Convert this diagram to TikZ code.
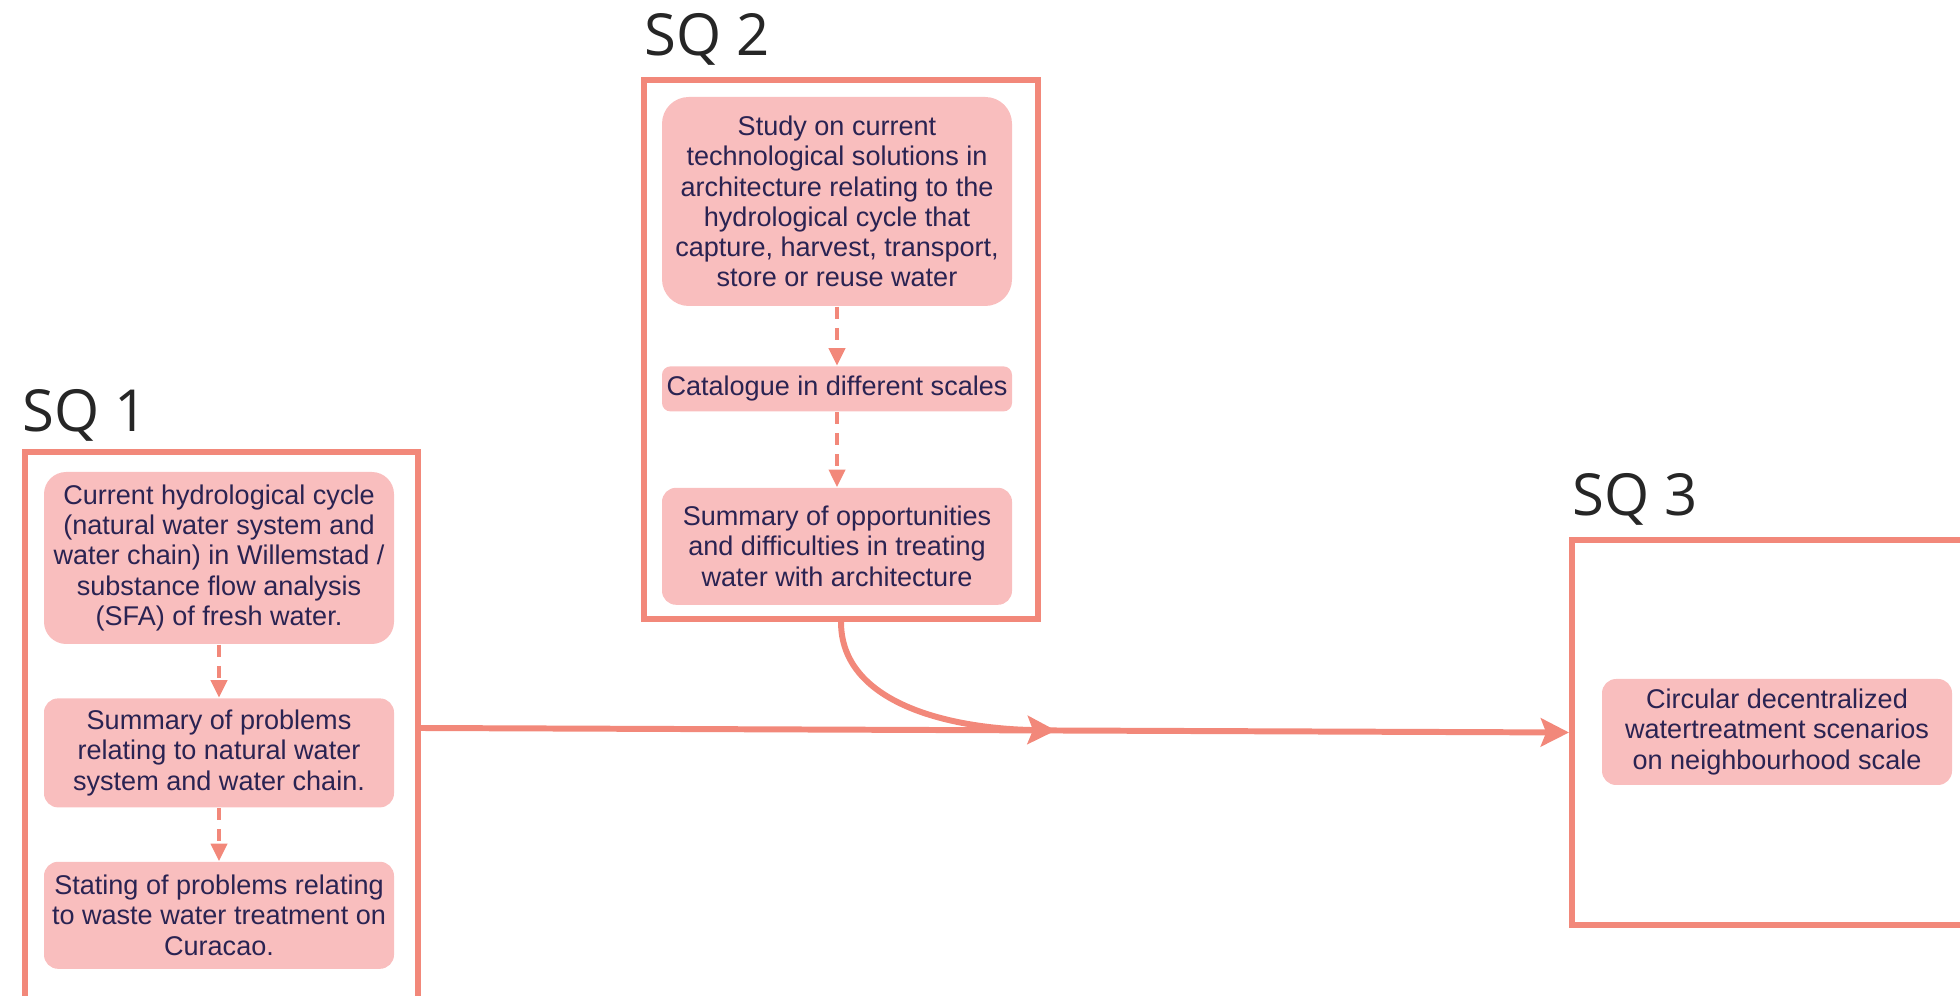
\documentclass[tikz,border=0pt]{standalone}
\usepackage{fontspec}
\setmainfont{Liberation Sans}
\newfontfamily\sqfont{Open Sans}
\usepackage{tikz}
\usepackage{xcolor}
\usetikzlibrary{arrows.meta, positioning, calc}

\definecolor{salmon}{HTML}{F2887A}
\definecolor{blush}{HTML}{F9BEBE}
\definecolor{ink}{HTML}{2A2352}

\begin{document}
\begin{tikzpicture}[
  frame/.style={rectangle, draw=salmon, line width=1.7pt, inner sep=0pt},
  task/.style={rectangle, rounded corners=#1, fill=blush, text=ink, align=center,
    minimum width=3.5cm, inner xsep=1pt, inner ysep=0pt,
    font=\fontsize{7.7}{8.6}\selectfont},
  task/.default=4pt,
  sqlabel/.style={anchor=base west, inner sep=0pt, text=black!85,
    font=\sqfont\fontsize{16.5}{20}\selectfont},
  flow/.style={draw=salmon, line width=1.7pt,
    -{Stealth[length=8pt, width=8pt, inset=1.5pt]}},
  substep/.style={draw=salmon, line width=1pt, dash pattern=on 3.4pt off 2.6pt,
    -{Triangle[length=5pt, width=4.6pt]}},
]

\useasboundingbox (0,0) rectangle (19.6,9.96);
\clip (0,0) rectangle (19.6,9.96);

% SQ 1
\node[sqlabel] (sq1) at (0.22,5.64) {SQ 1};
\node[frame, minimum width=3.93cm, minimum height=5.52cm] (frame1) at (2.215,2.68) {};
\node[task=6.3pt, minimum height=1.72cm] (s1a) at (2.19,4.38)
  {Current hydrological cycle\\(natural water system and\\water chain) in Willemstad /\\substance flow analysis\\(SFA) of fresh water.};
\node[task, minimum height=1.09cm, below=0.53cm of s1a] (s1b)
  {Summary of problems\\relating to natural water\\system and water chain.};
\node[task, minimum height=1.07cm, below=0.53cm of s1b] (s1c)
  {Stating of problems relating\\to waste water treatment on\\Curacao.};
\draw[substep] (s1a) -- (s1b);
\draw[substep] (s1b) -- (s1c);

% SQ 2
\node[sqlabel] (sq2) at (6.44,9.40) {SQ 2};
\node[frame, minimum width=3.94cm, minimum height=5.39cm] (frame2) at (8.41,6.465) {};
\node[task=7.6pt, minimum height=2.09cm] (s2a) at (8.37,7.945)
  {Study on current\\technological solutions in\\architecture relating to the\\hydrological cycle that\\capture, harvest, transport,\\store or reuse water};
\node[task=2.4pt, minimum height=0.45cm, below=0.59cm of s2a] (s2b)
  {Catalogue in different scales};
\node[task, minimum height=1.17cm, below=0.75cm of s2b] (s2c)
  {Summary of opportunities\\and difficulties in treating\\water with architecture};
\draw[substep] (s2a) -- (s2b);
\draw[substep] (s2b) -- (s2c);

% SQ 3
\node[sqlabel] (sq3) at (15.72,4.80) {SQ 3};
\node[frame, minimum width=4.28cm, minimum height=3.85cm] (frame3) at (17.86,2.635) {};
\node[task, minimum height=1.06cm] (s3a) at (17.77,2.64)
  {Circular decentralized\\watertreatment scenarios\\on neighbourhood scale};

% flows between the sub-questions
\coordinate (merge) at ($(frame1.east)!0.553!(frame3.west)$);
\draw[flow] (frame1.east) -- (frame3.west);
\draw[flow] (frame2.south) .. controls +(0,-0.8) and +(-1.1,0.02) .. (merge);

\end{tikzpicture}
\end{document}
